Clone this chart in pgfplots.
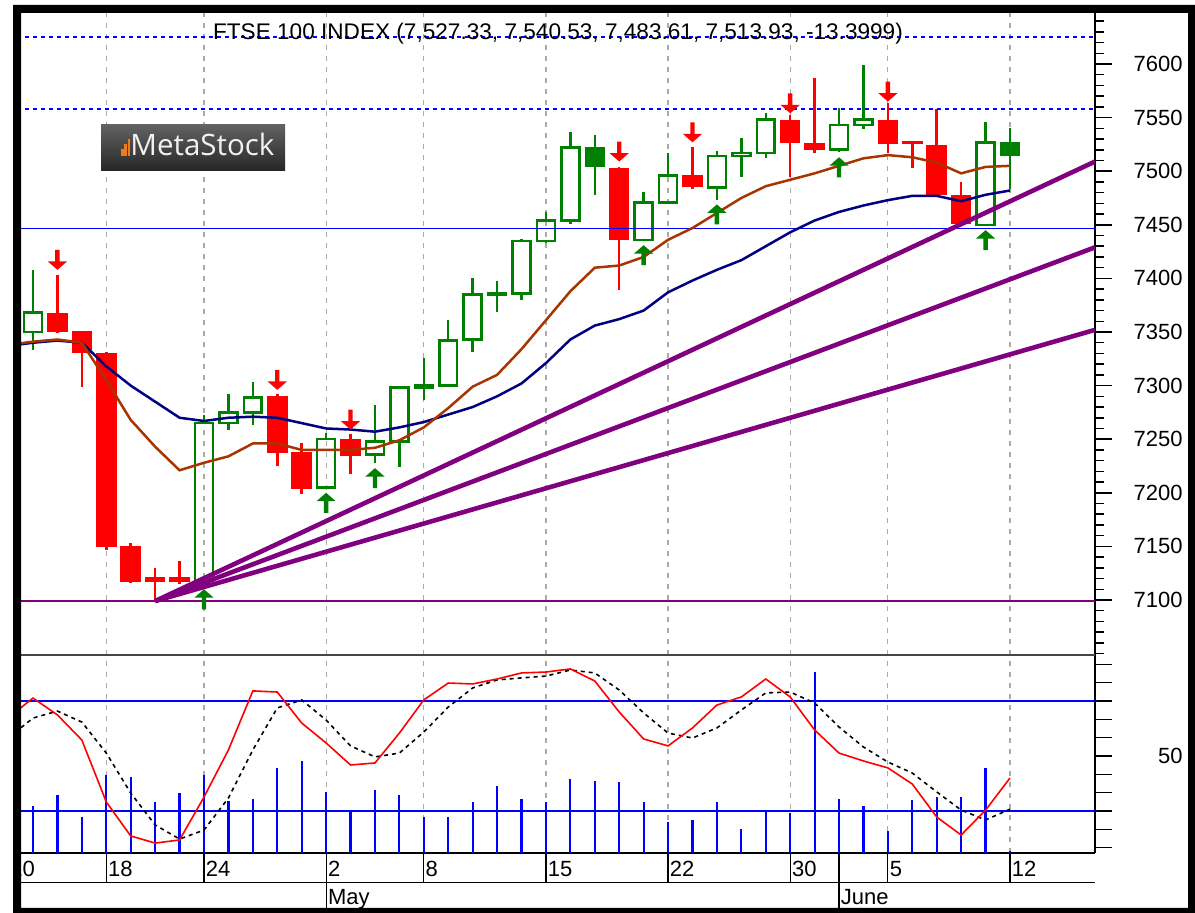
\documentclass[border=0pt]{standalone}
\usepackage{fontspec}
\setmainfont{Liberation Sans}
\newfontfamily\logofont{Open Sans}
\usepackage{pgfplots}
\usepackage{pgfplotstable}
\pgfplotsset{compat=1.18}

\definecolor{cgreen}{RGB}{0,128,0}
\definecolor{cred}{RGB}{255,0,0}
\definecolor{cbrown}{RGB}{168,52,0}
\definecolor{cnavy}{RGB}{0,0,130}
\definecolor{cpurple}{RGB}{128,0,128}
\definecolor{cblue}{RGB}{0,0,255}
\definecolor{cgrid}{RGB}{170,170,170}
\definecolor{cdark}{RGB}{70,70,70}
\definecolor{corange}{RGB}{235,125,30}
\definecolor{logotop}{RGB}{98,98,98}
\definecolor{logobot}{RGB}{38,38,38}

\pgfdeclareplotmark{sellarrow}{%
  \pgfpathmoveto{\pgfpoint{0pt}{0pt}}%
  \pgfpathlineto{\pgfpoint{-4.8pt}{4.2pt}}%
  \pgfpathlineto{\pgfpoint{-1.1pt}{4.2pt}}%
  \pgfpathlineto{\pgfpoint{-1.1pt}{10pt}}%
  \pgfpathlineto{\pgfpoint{1.1pt}{10pt}}%
  \pgfpathlineto{\pgfpoint{1.1pt}{4.2pt}}%
  \pgfpathlineto{\pgfpoint{4.8pt}{4.2pt}}%
  \pgfpathclose
  \pgfusepathqfill}
\pgfdeclareplotmark{buyarrow}{%
  \pgfpathmoveto{\pgfpoint{0pt}{0pt}}%
  \pgfpathlineto{\pgfpoint{-4.8pt}{-4.2pt}}%
  \pgfpathlineto{\pgfpoint{-1.1pt}{-4.2pt}}%
  \pgfpathlineto{\pgfpoint{-1.1pt}{-10pt}}%
  \pgfpathlineto{\pgfpoint{1.1pt}{-10pt}}%
  \pgfpathlineto{\pgfpoint{1.1pt}{-4.2pt}}%
  \pgfpathlineto{\pgfpoint{4.8pt}{-4.2pt}}%
  \pgfpathclose
  \pgfusepathqfill}

% hollow green candles (close > open)
\pgfplotstableread{
i O H L C
1 7350 7408 7333 7368
8 7115 7273 7114 7265
9 7265 7292 7259 7275
10 7275 7303 7263 7289
13 7205 7256 7205 7250
15 7236 7282 7228 7248
16 7248 7300 7224 7298
17 7298 7326 7287 7300
18 7300 7361 7299 7342
19 7343 7400 7331 7385
20 7385 7398 7369 7386
21 7386 7437 7380 7435
22 7435 7462 7433 7454
23 7454 7537 7451 7522
26 7436 7481 7436 7471
27 7471 7517 7470 7496
29 7485 7519 7473 7514
30 7514 7531 7495 7517
31 7517 7554 7512 7548
34 7520 7559 7518 7543
35 7543 7599 7539 7548
40 7450 7546 7450 7527
}\gup

% filled green candles
\pgfplotstableread{
i O H L C
24 7523 7534 7478 7504
41 7527.33 7540.53 7483.61 7513.93
}\gfill

% red candles
\pgfplotstableread{
i O H L C
2 7368 7403 7349 7350
3 7351 7351 7299 7330
4 7330 7331 7147 7149
5 7150 7153 7116 7117
6 7121 7130 7100 7117
7 7121 7136 7115 7117
11 7290 7292 7225 7237
12 7238 7246 7199 7204
14 7250 7255 7218 7234
25 7503 7504 7389 7436
28 7496 7523 7483 7485
32 7548 7552 7495 7526
33 7526 7587 7517 7520
36 7548 7564 7517 7525
37 7528 7528 7503 7525
38 7524 7558 7478 7478
39 7478 7490 7450 7451
}\rdn

\pgfplotstableread{
i y
2 7408
11 7296
14 7259
25 7509
28 7527
32 7554
36 7565
}\sells

\pgfplotstableread{
i y
8 7110
13 7200
15 7223
26 7431
29 7469
34 7513
40 7445
}\buys

% moving averages
\pgfplotstableread{
i fast slow
0 7338 7337
1 7341 7340
2 7343 7342
3 7340 7340
4 7305 7318
5 7268 7300
6 7243 7285
7 7221 7270
8 7228 7267
9 7234 7270
10 7246 7271
11 7246 7270
12 7240 7265
13 7240 7260
14 7240 7259
15 7242 7257
16 7249 7261
17 7261 7266
18 7279 7273
19 7299 7280
20 7310 7290
21 7334 7302
22 7361 7321
23 7388 7343
24 7410 7356
25 7412 7362
26 7420 7370
27 7436 7387
28 7447 7398
29 7461 7408
30 7475 7417
31 7486 7430
32 7492 7443
33 7498 7454
34 7505 7462
35 7512 7468
36 7515 7473
37 7513 7477
38 7508 7477
39 7498 7472
40 7504 7478
41 7505 7482
}\mas

% stochastic %K and %D
\pgfplotstableread{
i K D
0 71 60
1 81.6 70.7
2 72.4 74.5
3 58.7 68.5
4 24.9 51.6
5 6.4 29.8
6 2.5 12.4
7 4.2 4.7
8 27.6 9.6
9 53.3 27.1
10 85.5 53.3
11 84.9 76.2
12 68 80.6
13 57.1 69.6
14 45.1 55.5
15 46.2 49.5
16 62.5 51.6
17 80.6 63.1
18 89.8 76.7
19 89.3 87.1
20 92 91.5
21 95.3 92.6
22 95.8 93.6
23 97.5 96.9
24 90.9 95.3
25 74 86
26 59.3 73.5
27 55.5 62.5
28 65.3 59.8
29 77.8 65.3
30 82.2 75.1
31 92 84.4
32 82.2 84.9
33 64.2 78.9
34 51.6 65.8
35 47.3 54.9
36 43.5 46.7
37 34.7 40.7
38 16.7 30.4
39 6.9 20.5
40 20.5 15.1
41 38 21
}\stoch

% volume (bar heights, arbitrary units)
\pgfplotstableread{
i V
1 47
2 58
3 36
4 78
5 76
6 51
7 60
8 78
9 52
10 54
11 85
12 92
13 61
14 43
15 63
16 58
17 36
18 36
19 51
20 67
21 54
22 51
23 74
24 72
25 71
26 51
27 31
28 33
29 51
30 24
31 43
32 40
33 181
34 54
35 47
36 22
37 53
38 56
39 56
40 85
41 2
}\vol

\pgfplotsset{
  wickstyle/.style={draw=none, mark=none, error bars/error mark=none,
     error bars/error bar style={draw=#1, line width=1.25pt}},
  outlinestyle/.style={draw=none, mark=none, error bars/error mark=none,
     error bars/error bar style={draw=#1, line width=1.3pt, line cap=rect}},
  bodystyle/.style={draw=none, mark=none, error bars/y dir=plus, error bars/y explicit,
     error bars/error mark=none,
     error bars/error bar style={draw=#1, line width=10.25pt}},
}

\begin{document}
\begin{tikzpicture}
\fill[white] (0pt,0pt) rectangle (597.5pt,456.5pt);

%================ MAIN PRICE PANEL ================
\begin{axis}[
  at={(10.5pt,129pt)}, anchor=south west,
  scale only axis, width=537pt, height=321pt,
  xmin=0.508, xmax=44.48, ymin=7048.7, ymax=7647.6,
  axis x line*=bottom, axis y line*=right,
  x axis line style={draw=none},
  y axis line style={black, line width=0.8pt, -},
  xtick={0,4,8,13,17,22,27,32,36,41}, xticklabels={},
  xtick style={draw=none},
  xmajorgrids,
  major x grid style={cgrid, line width=0.6pt, dash pattern=on 2.5pt off 3pt},
  ytick={7100,7150,...,7600},
  minor ytick={7050,7060,...,7640},
  tick align=outside,
  major tick length=8.5pt, minor tick length=4.5pt,
  ytick style={black, line width=0.75pt},
  yticklabel style={font=\fontsize{11}{13}\selectfont, anchor=east, inner sep=0pt, xshift=35.5pt},
  /pgf/number format/assume math mode=true,
  /pgf/number format/set thousands separator={},
]
% --- candles: wicks
\addplot[wickstyle=cgreen, error bars/y dir=minus, error bars/y explicit]
  table[x=i, y expr={min(\thisrow{O},\thisrow{C})}, y error minus expr={min(\thisrow{O},\thisrow{C})-\thisrow{L}}]{\gup};
\addplot[wickstyle=cgreen, error bars/y dir=plus, error bars/y explicit]
  table[x=i, y expr={max(\thisrow{O},\thisrow{C})}, y error plus expr={\thisrow{H}-max(\thisrow{O},\thisrow{C})}]{\gup};
\addplot[wickstyle=cgreen, error bars/y dir=plus, error bars/y explicit]
  table[x=i, y=L, y error plus expr={\thisrow{H}-\thisrow{L}}]{\gfill};
\addplot[wickstyle=cred, error bars/y dir=plus, error bars/y explicit]
  table[x=i, y=L, y error plus expr={\thisrow{H}-\thisrow{L}}]{\rdn};
% --- hollow bodies (outline)
\addplot[outlinestyle=cgreen, error bars/y dir=plus, error bars/y explicit]
  table[x expr={\thisrow{i}-0.366}, y expr={min(\thisrow{O},\thisrow{C})}, y error plus expr={abs(\thisrow{C}-\thisrow{O})}]{\gup};
\addplot[outlinestyle=cgreen, error bars/y dir=plus, error bars/y explicit]
  table[x expr={\thisrow{i}+0.366}, y expr={min(\thisrow{O},\thisrow{C})}, y error plus expr={abs(\thisrow{C}-\thisrow{O})}]{\gup};
\addplot[outlinestyle=cgreen, error bars/x dir=both, error bars/x fixed=0.366]
  table[x=i, y expr={min(\thisrow{O},\thisrow{C})}]{\gup};
\addplot[outlinestyle=cgreen, error bars/x dir=both, error bars/x fixed=0.366]
  table[x=i, y expr={max(\thisrow{O},\thisrow{C})}]{\gup};
% --- filled bodies
\addplot[bodystyle=cgreen]
  table[x=i, y expr={min(\thisrow{O},\thisrow{C})}, y error plus expr={abs(\thisrow{C}-\thisrow{O})}]{\gfill};
\addplot[bodystyle=cred]
  table[x=i, y expr={min(\thisrow{O},\thisrow{C})}, y error plus expr={abs(\thisrow{C}-\thisrow{O})}]{\rdn};

% --- horizontal levels
\addplot[cblue, line width=0.9pt, dash pattern=on 2.3pt off 1.7pt] coordinates {(0,7625.5) (45,7625.5)};
\addplot[cblue, line width=0.9pt, dash pattern=on 2.3pt off 1.7pt] coordinates {(0,7558) (45,7558)};
\addplot[cblue, line width=0.8pt] coordinates {(0,7446.5) (45,7446.5)};
\addplot[cpurple, line width=1.3pt] coordinates {(0,7099) (45,7099)};
% --- fan lines
\addplot[cpurple, line width=2.3pt] coordinates {(6,7099) (44.48,7509)};
\addplot[cpurple, line width=2.3pt] coordinates {(6,7099) (44.48,7429)};
\addplot[cpurple, line width=2.3pt] coordinates {(6,7099) (44.48,7352)};
% --- moving averages
\addplot[cnavy, line width=1.25pt, mark=none] table[x=i, y=slow]{\mas};
\addplot[cbrown, line width=1.25pt, mark=none] table[x=i, y=fast]{\mas};
% --- signal arrows
\addplot[only marks, mark=sellarrow, color=cred] table[x=i, y=y]{\sells};
\addplot[only marks, mark=buyarrow, color=cgreen] table[x=i, y=y]{\buys};
\end{axis}

%================ LOWER OSCILLATOR PANEL ================
\begin{axis}[
  at={(10.5pt,30pt)}, anchor=south west,
  scale only axis, width=537pt, height=99pt,
  xmin=0.508, xmax=44.48, ymin=-2.9, ymax=105.1,
  axis x line*=bottom, axis y line*=right,
  x axis line style={black, line width=0.6pt, -},
  y axis line style={black, line width=0.8pt, -},
  xtick={0,4,8,13,17,22,27,32,36,41}, xticklabels={},
  xtick style={draw=none},
  xmajorgrids,
  major x grid style={cgrid, line width=0.6pt, dash pattern=on 2.5pt off 3pt},
  ytick={0,10,...,100}, yticklabels={,,,,,50,,,,,},
  tick align=outside, major tick length=8.5pt,
  ytick style={black, line width=0.75pt},
  yticklabel style={font=\fontsize{11}{13}\selectfont, anchor=east, inner sep=0pt, xshift=35.5pt},
  /pgf/number format/assume math mode=true,
  clip mode=individual,
]
\addplot[draw=none, mark=none, error bars/y dir=plus, error bars/y explicit, error bars/error mark=none,
  error bars/error bar style={draw=cblue, line width=1.1pt}]
  table[x=i, y expr={-2.9}, y error plus expr={\thisrow{V}/1.833}]{\vol};
\addplot[cblue, line width=0.8pt] coordinates {(0,80) (45,80)};
\addplot[cblue, line width=0.8pt] coordinates {(0,20) (45,20)};
\addplot[black, line width=0.8pt, mark=none, dash pattern=on 2pt off 2pt] table[x=i, y=D]{\stoch};
\addplot[cred, line width=0.8pt, mark=none] table[x=i, y=K]{\stoch};

% panel separator
\draw[cdark, line width=1pt] (rel axis cs:0,1) -- (rel axis cs:1,1);
% date row separators
\draw[black, line width=0.6pt] ([yshift=-14.75pt]rel axis cs:0,0) -- ([yshift=-14.75pt]rel axis cs:1,0);
\draw[black, line width=0.6pt] (axis cs:0,-2.9) -- ++(0pt,-14.5pt);
\draw[black, line width=0.6pt] (axis cs:4,-2.9) -- ++(0pt,-14.5pt);
\draw[black, line width=0.6pt] (axis cs:8,-2.9) -- ++(0pt,-14.5pt);
\draw[black, line width=0.6pt] (axis cs:13,-2.9) -- ++(0pt,-27.5pt);
\draw[black, line width=0.6pt] (axis cs:17,-2.9) -- ++(0pt,-14.5pt);
\draw[black, line width=0.6pt] (axis cs:22,-2.9) -- ++(0pt,-14.5pt);
\draw[black, line width=0.6pt] (axis cs:27,-2.9) -- ++(0pt,-14.5pt);
\draw[black, line width=0.6pt] (axis cs:32,-2.9) -- ++(0pt,-14.5pt);
\draw[black, line width=0.6pt] (axis cs:34,-2.9) -- ++(0pt,-27.5pt);
\draw[black, line width=0.6pt] (axis cs:36,-2.9) -- ++(0pt,-14.5pt);
\draw[black, line width=0.6pt] (axis cs:41,-2.9) -- ++(0pt,-14.5pt);
% date labels
\begin{scope}[every node/.style={anchor=base west, inner sep=0pt, font=\fontsize{11}{13}\selectfont}]
\node[xshift=0.75pt, yshift=-12pt] at (axis cs:0,-2.9) {10};
\node[xshift=0.75pt, yshift=-12pt] at (axis cs:4,-2.9) {18};
\node[xshift=0.75pt, yshift=-12pt] at (axis cs:8,-2.9) {24};
\node[xshift=0.75pt, yshift=-12pt] at (axis cs:13,-2.9) {2};
\node[xshift=0.75pt, yshift=-12pt] at (axis cs:17,-2.9) {8};
\node[xshift=0.75pt, yshift=-12pt] at (axis cs:22,-2.9) {15};
\node[xshift=0.75pt, yshift=-12pt] at (axis cs:27,-2.9) {22};
\node[xshift=0.75pt, yshift=-12pt] at (axis cs:32,-2.9) {30};
\node[xshift=0.75pt, yshift=-12pt] at (axis cs:36,-2.9) {5};
\node[xshift=0.75pt, yshift=-12pt] at (axis cs:41,-2.9) {12};
\node[xshift=0.75pt, yshift=-26pt] at (axis cs:13,-2.9) {May};
\node[xshift=0.75pt, yshift=-26pt] at (axis cs:34,-2.9) {June};
\end{scope}
\end{axis}

% title
\node[anchor=base, inner sep=0pt, font=\fontsize{11.3}{13}\selectfont] at (279pt,436.5pt)
  {FTSE 100 INDEX (7,527.33, 7,540.53, 7,483.61, 7,513.93, -13.3999)};

% MetaStock logo
\shade[top color=logotop, bottom color=logobot] (50.5pt,371pt) rectangle (142.5pt,394pt);
\fill[corange] (60.4pt,378.5pt) rectangle (61.8pt,382pt);
\fill[corange] (62.2pt,378.5pt) rectangle (63.6pt,384.5pt);
\fill[corange] (64pt,378.5pt) rectangle (65.2pt,387pt);
\node[anchor=base west, inner sep=0pt, text={rgb,255:red,242;green,242;blue,242},
  font=\logofont\fontsize{14.75}{16}\selectfont] at (65pt,378.5pt) {MetaStock};

% frame
\fill[white] (0pt,0pt) rectangle (6.5pt,456.5pt);
\fill[white] (0pt,454pt) rectangle (597.5pt,456.5pt);
\fill[black, even odd rule] (6.5pt,0pt) rectangle (597.5pt,454pt) (10.5pt,2.5pt) rectangle (594pt,450pt);

\pgfresetboundingbox
\useasboundingbox (0pt,0pt) rectangle (597.5pt,456.5pt);
\end{tikzpicture}
\end{document}
